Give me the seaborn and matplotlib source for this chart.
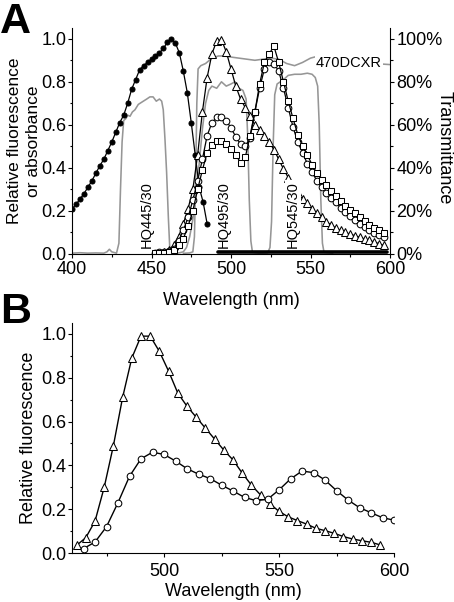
import numpy as np
import matplotlib
matplotlib.use("Agg")
import matplotlib.pyplot as plt
import seaborn as sns
from matplotlib.ticker import MultipleLocator, FuncFormatter

# ---------------- data ----------------
# Panel A: absorbance (filled circles), 2.5 nm spacing
abs_wl = np.arange(400, 485.1, 2.5)
abs_val = [0.21, 0.23, 0.255, 0.28, 0.31, 0.34, 0.375, 0.41, 0.44, 0.48,
           0.52, 0.565, 0.61, 0.645, 0.70, 0.765, 0.81, 0.855, 0.875, 0.89,
           0.905, 0.92, 0.935, 0.955, 0.985, 1.0, 0.98, 0.935, 0.85, 0.75,
           0.61, 0.46, 0.31, 0.24, 0.14]
abs_base_wl = [492, 598]
abs_base_val = [0.008, 0.008]

# Panel A: fluorescence spectra, 3 nm spacing
fl_wl = np.arange(452, 596.1, 3)
fl_tri = [0.0, 0.005, 0.01, 0.02, 0.04, 0.08, 0.14, 0.21, 0.30, 0.46,
          0.66, 0.82, 0.93, 0.99, 0.995, 0.94, 0.86, 0.78, 0.72, 0.68,
          0.64, 0.60, 0.575, 0.55, 0.52, 0.485, 0.44, 0.395, 0.355, 0.32,
          0.285, 0.255, 0.235, 0.21, 0.19, 0.17, 0.15, 0.135, 0.12, 0.11,
          0.10, 0.092, 0.085, 0.078, 0.07, 0.063, 0.056, 0.048, 0.04]
fl_circ = [0.005, 0.007, 0.01, 0.015, 0.025, 0.06, 0.11, 0.17, 0.25, 0.34,
           0.44, 0.55, 0.61, 0.635, 0.635, 0.62, 0.585, 0.545, 0.51, 0.50,
           0.54, 0.66, 0.77, 0.86, 0.89, 0.885, 0.85, 0.77, 0.68, 0.59,
           0.52, 0.47, 0.42, 0.38, 0.34, 0.31, 0.285, 0.26, 0.24, 0.215,
           0.195, 0.175, 0.158, 0.14, 0.124, 0.11, 0.098, 0.087, 0.078]
fl_sq = [0.003, 0.004, 0.005, 0.01, 0.02, 0.04, 0.07, 0.13, 0.20, 0.30,
         0.39, 0.47, 0.505, 0.525, 0.525, 0.51, 0.49, 0.46, 0.425, 0.45,
         0.55, 0.66, 0.79, 0.89, 0.93, 0.965, 0.89, 0.80, 0.71, 0.63,
         0.555, 0.50, 0.46, 0.415, 0.375, 0.345, 0.32, 0.295, 0.27, 0.245,
         0.225, 0.205, 0.19, 0.17, 0.155, 0.135, 0.122, 0.11, 0.097]

# Panel A: filter / dichroic transmittance (%)
hq445_wl = [400, 405, 410, 415, 420, 422, 423.5, 425, 428, 429.5, 430.5, 431.5,
            432.5, 434, 435, 436.5, 438, 439.6, 441.7, 443.8, 447, 449, 451, 453,
            455, 456.4, 457.4, 458.5, 459.5, 460.6, 461.6, 466]
hq445_t = [0.4, 0.6, 0.4, 0.5, 0.4, 1.0, 2.2, 1.0, 0.4, 5, 30, 52,
           62, 63, 64.5, 64, 66, 67, 69.5, 70.5, 72, 73, 73, 71,
           72, 71, 67, 53, 38, 17, 1, 0.4]
dcxr_wl = [470, 474, 476, 477, 477.8, 478.5, 479.3, 481, 484, 488, 492, 496,
           500, 505, 510, 515, 520, 525, 530, 535, 540, 545, 550, 555,
           560, 570, 580, 590, 600]
dcxr_t = [0.3, 0.5, 1, 8, 35, 70, 86, 87.5, 88.5, 91, 92, 92,
          91.5, 91, 90.5, 90, 90.5, 91, 90.5, 88.5, 87.5, 89, 91, 92,
          91, 90, 89, 88.5, 88]
hq495_wl = [466, 470, 472, 474, 476, 478, 480, 482, 484, 486, 488, 491,
            494, 497, 500, 502.5, 505, 507.5, 509.5, 510.5, 511.5, 512.5, 513.5, 518]
hq495_t = [0.3, 1, 3, 8, 16, 28, 42, 58, 70, 76, 78, 77,
           80, 78, 79, 80, 77, 76, 72, 55, 25, 6, 0.8, 0.3]
hq545_wl = [518, 523, 524.5, 525.5, 526.5, 527.5, 529, 531, 533, 536, 540, 544,
            548, 551, 553, 554.5, 555.5, 556.5, 557.5, 558.5, 564]
hq545_t = [0.3, 0.5, 3, 15, 50, 74, 79, 80, 81, 83, 83.5, 83.5,
           84, 83.5, 82, 78, 60, 25, 5, 0.8, 0.3]

filter_labels = ["HQ445/30", "HQ495/30", "HQ545/30"]
filter_label_x = [447, 495.5, 539]
dichroic_label = "470DCXR"

# Panel B: fluorescence spectra
b_tri_wl = np.arange(462, 594.1, 4)
b_tri = [0.035, 0.07, 0.145, 0.30, 0.49, 0.71, 0.89, 0.99, 0.99, 0.92,
         0.83, 0.73, 0.67, 0.62, 0.57, 0.52, 0.47, 0.425, 0.365, 0.31,
         0.265, 0.225, 0.19, 0.165, 0.148, 0.132, 0.113, 0.102, 0.09, 0.075,
         0.064, 0.056, 0.049, 0.037]
b_circ_wl = np.arange(465, 600.1, 5)
b_circ = [0.02, 0.05, 0.12, 0.23, 0.35, 0.43, 0.46, 0.45, 0.42, 0.385,
          0.36, 0.34, 0.31, 0.283, 0.254, 0.239, 0.245, 0.288, 0.338, 0.374,
          0.367, 0.333, 0.285, 0.242, 0.207, 0.184, 0.161, 0.15]

# ---------------- style ----------------
sns.set_style("ticks")
plt.rcParams['font.family'] = ['Liberation Sans', 'DejaVu Sans']
plt.rcParams.update({
    'axes.edgecolor': 'black', 'axes.linewidth': 0.8,
    'xtick.color': 'black', 'ytick.color': 'black',
    'text.color': 'black', 'axes.labelcolor': 'black',
    'xtick.direction': 'out', 'ytick.direction': 'out',
    'xtick.major.size': 3.2, 'ytick.major.size': 3.2,
    'xtick.minor.size': 1.8, 'ytick.minor.size': 1.8,
    'xtick.major.width': 0.8, 'ytick.major.width': 0.8,
    'xtick.minor.width': 0.8, 'ytick.minor.width': 0.8,
    'xtick.major.pad': 2, 'ytick.major.pad': 0.6,
    'font.size': 13,
})

W, H = 454, 602
fig = plt.figure(figsize=(W / 100, H / 100), dpi=100)

def frac(l, t, r, b):
    return [l / W, 1 - b / H, (r - l) / W, (b - t) / H]

GRAY = '#969696'

def series(ax, x, y, marker, ms, mfc, lw=0.9):
    sns.lineplot(x=np.asarray(x, float), y=np.asarray(y, float), ax=ax,
                 color='black', lw=lw, marker=marker, markersize=ms,
                 markerfacecolor=mfc, markeredgecolor='black',
                 markeredgewidth=0.75, estimator=None, sort=False, legend=False)

# ---------------- Panel A ----------------
axA = fig.add_axes(frac(72, 28, 390, 254))
axT = axA.twinx()
axA.set_zorder(2)
axT.set_zorder(1)
axA.patch.set_visible(False)

for wl, t in [(hq445_wl, hq445_t), (dcxr_wl, dcxr_t), (hq495_wl, hq495_t), (hq545_wl, hq545_t)]:
    sns.lineplot(x=np.asarray(wl, float), y=np.asarray(t, float), ax=axT,
                 color=GRAY, lw=1.15, estimator=None, sort=False, legend=False)

series(axA, abs_wl, abs_val, 'o', 3.6, 'black')
sns.lineplot(x=np.asarray(abs_base_wl, float), y=np.asarray(abs_base_val, float),
             ax=axA, color='black', lw=2.6, estimator=None, legend=False)
series(axA, fl_wl, fl_tri, '^', 5.2, 'white')
series(axA, fl_wl, fl_circ, 'o', 4.8, 'white')
series(axA, fl_wl, fl_sq, 's', 4.3, 'white')

for lab, xl in zip(filter_labels, filter_label_x):
    axA.text(xl, 0.03, lab, rotation=90, ha='center', va='bottom', fontsize=10.5,
             bbox=dict(fc='white', ec='none', pad=0.8), zorder=10)
axA.text(553.5, 0.888, dichroic_label, ha='left', va='center', fontsize=10.5,
         bbox=dict(fc='white', ec='none', pad=0.8), zorder=10)

axA.set_xlim(400, 600)
axA.set_ylim(0, 1.05)
axT.set_ylim(0, 105)
axA.xaxis.set_major_locator(MultipleLocator(50))
axA.xaxis.set_minor_locator(MultipleLocator(25))
axA.yaxis.set_major_locator(MultipleLocator(0.2))
axA.yaxis.set_minor_locator(MultipleLocator(0.1))
axA.yaxis.set_major_formatter(FuncFormatter(lambda v, p: f"{v:.1f}"))
axT.yaxis.set_major_locator(MultipleLocator(20))
axT.yaxis.set_minor_locator(MultipleLocator(10))
axT.yaxis.set_major_formatter(FuncFormatter(lambda v, p: f"{int(round(v))}%"))
axA.tick_params(labelsize=13)
axT.tick_params(labelsize=13, pad=1.5)
axA.spines['top'].set_visible(False)
axA.spines['right'].set_visible(False)
axT.spines['top'].set_visible(False)
axT.spines['left'].set_visible(False)
axT.spines['bottom'].set_visible(False)

axA.set_xlabel("Wavelength (nm)", fontsize=13, labelpad=10)
axA.set_ylabel("Relative fluorescence\nor absorbance", fontsize=12.5, linespacing=1.28)
axA.yaxis.set_label_coords(-0.098, 0.5)
axT.set_ylabel("Transmittance", fontsize=13, rotation=270, va='bottom')
axT.yaxis.set_label_coords(1.145, 0.47)

# ---------------- Panel B ----------------
axB = fig.add_axes(frac(72, 323, 394, 553))
series(axB, b_tri_wl, b_tri, '^', 6.2, 'white', lw=1.0)
series(axB, b_circ_wl, b_circ, 'o', 4.8, 'white', lw=1.0)
axB.set_xlim(460, 600)
axB.set_ylim(0, 1.05)
axB.xaxis.set_major_locator(MultipleLocator(50))
axB.xaxis.set_minor_locator(MultipleLocator(25))
axB.yaxis.set_major_locator(MultipleLocator(0.2))
axB.yaxis.set_minor_locator(MultipleLocator(0.1))
axB.yaxis.set_major_formatter(FuncFormatter(lambda v, p: f"{v:.1f}"))
axB.tick_params(labelsize=13)
axB.tick_params(axis='x', pad=3.8)
axB.spines['top'].set_visible(False)
axB.spines['right'].set_visible(False)
axB.set_xlabel("Wavelength (nm)", fontsize=13, labelpad=2)
axB.set_ylabel("Relative fluorescence", fontsize=13)
axB.yaxis.set_label_coords(-0.108, 0.5)

# panel letters
fig.text(0.0, 1 - 22 / H, "A", fontsize=31, fontweight='bold', ha='left', va='center')
fig.text(0.0, 1 - 312 / H, "B", fontsize=31, fontweight='bold', ha='left', va='center')

fig.savefig("out.png", dpi=100)
